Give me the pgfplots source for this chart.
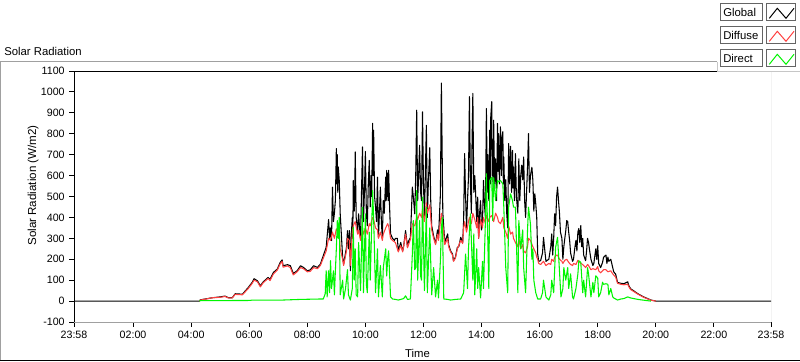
\documentclass[border=0pt]{standalone}
\usepackage{fontspec}
\setmainfont{Liberation Sans}
\usepackage{pgfplots}
\pgfplotsset{compat=1.18}
\definecolor{diffred}{RGB}{255,64,64}
\definecolor{dirgreen}{RGB}{0,245,0}
\definecolor{framegray}{RGB}{160,160,160}
\definecolor{boxgray}{RGB}{100,100,100}
\begin{document}
\begin{tikzpicture}[x=0.75pt,y=0.75pt,font=\fontsize{8.5}{10}\selectfont]
\path[use as bounding box] (0,0) rectangle (800,361);
% outer frame
\draw[framegray, line width=0.75pt] (0.5,0) -- (0.5,299) -- (717,299);
\draw[black, line width=0.75pt] (0,0.5) -- (800,0.5);
\node[anchor=west, inner sep=0] at (4,309.5) {Solar Radiation};
\begin{axis}[
  at={(55.5pt,29.25pt)}, anchor=south west, scale only axis,
  width=522.75pt, height=188.25pt,
  xmin=-2, xmax=1438, ymin=-100, ymax=1100,
  ytick={-100,0,...,1100},
  xtick={-2,120,240,360,480,600,720,840,960,1080,1200,1320,1438},
  xticklabels={23:58,02:00,04:00,06:00,08:00,10:00,12:00,14:00,16:00,18:00,20:00,22:00,23:58},
  minor x tick num=8,
  axis line style={draw=none},
  tick align=outside, tick pos=left,
  major tick length=3.5pt, minor tick length=1.8pt,
  every tick/.style={black, line width=0.75pt},
  tick label style={font=\fontsize{8}{9}\selectfont},
  /pgf/number format/assume math mode=true,
  /pgf/number format/1000 sep={},
  xlabel={Time}, ylabel={Solar Radiation (W/m2)},
  xlabel style={at={(axis description cs:0.4928,-0.1235)}, anchor=center, font=\fontsize{8.5}{10}\selectfont},
  ylabel style={at={(axis description cs:-0.0588,0.544)}, anchor=center, font=\fontsize{8.7}{10}\selectfont},
  clip=true,
]
\addplot[black, line width=0.8pt, line join=round, no marks] coordinates {
(-2,0) (257,0) (259,6) (269,10) (284,16) (300,20) (310,24) (317,16) (325,16) (331,35) (346,33) (352,49) (358,65) (366,89) (370,107) (377,97) (383,73) (389,92) (399,113) (403,104) (410,137) (418,153) (424,185) (428,197) (430,169) (439,174) (445,169) (451,132) (459,145) (466,169) (472,161) (480,145) (486,149) (493,169) (501,161) (507,177) (513,217) (519,257) (524,390) (526,300) (528,350) (530,289) (532,545) (534,380) (536,420) (538,481) (539,600) (540,729) (541,560) (542,700) (543,520) (544,641) (546,577) (548,417) (553,209) (555,177) (561,257) (563,337) (565,250) (567,337) (569,145) (571,320) (573,400) (574,300) (575,577) (577,430) (578,520) (579,713) (581,400) (584,337) (586,417) (588,350) (590,300) (592,520) (594,737) (596,380) (598,520) (600,715) (602,420) (604,360) (606,560) (608,673) (610,450) (612,600) (613,500) (615,850) (616,600) (617,817) (619,500) (621,448) (623,380) (625,592) (627,304) (629,420) (631,545) (633,380) (635,300) (637,481) (639,420) (642,593) (643,480) (644,625) (645,500) (646,611) (647,480) (648,625) (650,450) (652,322) (656,300) (660,290) (662,300) (666,300) (668,241) (673,280) (677,240) (679,260) (683,337) (687,260) (689,285) (693,304) (695,420) (697,545) (699,500) (702,417) (704,600) (706,913) (708,480) (710,600) (712,745) (714,520) (716,480) (718,905) (720,560) (722,400) (724,620) (726,840) (728,400) (730,560) (733,733) (735,480) (737,360) (741,310) (745,275) (749,340) (751,300) (755,513) (757,1042) (760,420) (762,350) (764,280) (770,321) (772,270) (776,240) (780,225) (782,193) (786,210) (790,257) (793,260) (797,305) (801,280) (803,385) (805,705) (807,500) (809,350) (811,480) (813,593) (815,977) (817,560) (819,420) (820,700) (822,993) (824,520) (826,600) (828,500) (830,380) (832,497) (834,300) (836,420) (838,480) (840,340) (842,380) (844,577) (846,460) (848,400) (850,921) (852,520) (853,700) (855,480) (857,817) (858,560) (859,880) (861,953) (862,600) (863,690) (864,520) (865,865) (867,560) (869,680) (871,480) (873,849) (874,620) (875,800) (877,560) (879,833) (881,600) (882,780) (884,810) (885,560) (886,689) (888,480) (890,580) (892,420) (894,350) (896,753) (898,560) (900,740) (902,520) (904,720) (905,540) (906,641) (908,480) (910,705) (912,500) (915,420) (917,680) (919,480) (921,600) (923,650) (925,580) (927,689) (929,480) (931,400) (933,520) (935,640) (937,801) (939,520) (941,600) (944,640) (946,577) (948,430) (950,513) (952,465) (954,400) (956,225) (958,190) (962,193) (966,230) (968,304) (973,190) (979,200) (983,260) (985,321) (987,220) (989,300) (991,417) (993,360) (995,497) (997,545) (999,480) (1001,420) (1003,330) (1006,300) (1008,200) (1010,260) (1012,300) (1014,337) (1016,385) (1018,380) (1020,330) (1022,290) (1024,230) (1028,190) (1030,200) (1033,260) (1035,290) (1037,240) (1039,330) (1041,347) (1043,280) (1045,361) (1047,260) (1049,300) (1051,220) (1055,193) (1057,240) (1059,300) (1061,280) (1064,230) (1066,200) (1070,170) (1072,180) (1076,250) (1078,200) (1080,265) (1082,180) (1086,160) (1090,185) (1092,209) (1097,220) (1099,180) (1101,210) (1103,190) (1107,200) (1111,160) (1113,140) (1117,129) (1121,89) (1128,85) (1134,83) (1142,92) (1144,75) (1148,59) (1155,48) (1163,35) (1175,20) (1190,5) (1200,0) (1438,0)
};
\addplot[diffred, line width=0.8pt, line join=round, no marks] coordinates {
(257,0) (259,5) (269,9) (284,16) (300,18) (310,22) (317,15) (325,15) (331,32) (346,30) (352,45) (358,60) (366,84) (370,100) (377,92) (383,68) (389,88) (399,108) (403,98) (410,130) (418,148) (424,178) (428,190) (430,162) (439,168) (445,160) (451,125) (459,140) (466,160) (472,155) (480,140) (486,142) (493,160) (501,155) (507,170) (513,205) (519,240) (524,300) (528,290) (532,330) (536,300) (540,345) (544,330) (546,320) (548,250) (553,200) (555,170) (561,240) (563,300) (567,290) (569,170) (573,330) (575,360) (579,380) (584,320) (586,340) (590,290) (594,340) (596,320) (600,350) (604,320) (608,370) (610,360) (615,400) (617,390) (621,350) (625,340) (627,300) (631,330) (635,290) (637,320) (642,350) (646,370) (648,360) (652,300) (656,290) (662,280) (668,235) (673,265) (677,235) (683,320) (687,255) (693,295) (697,370) (702,360) (706,400) (708,390) (712,420) (716,400) (718,440) (722,380) (726,470) (728,420) (733,460) (737,340) (741,300) (745,270) (749,320) (751,290) (755,380) (757,420) (762,320) (764,270) (770,300) (772,260) (776,235) (780,220) (782,190) (786,205) (790,250) (797,290) (801,275) (803,350) (805,380) (809,330) (813,380) (815,400) (819,370) (822,420) (826,390) (830,350) (832,400) (834,300) (838,390) (842,350) (844,400) (848,370) (850,410) (855,380) (857,400) (861,410) (865,380) (869,420) (873,400) (875,380) (879,370) (884,400) (886,350) (890,330) (894,300) (896,360) (900,320) (904,330) (906,300) (910,280) (915,260) (917,300) (921,250) (925,270) (927,240) (931,230) (935,260) (937,300) (941,290) (946,260) (948,250) (952,230) (954,210) (956,200) (958,180) (962,175) (968,190) (973,170) (979,180) (983,175) (985,200) (989,190) (991,210) (995,220) (997,220) (1001,200) (1006,190) (1008,180) (1012,195) (1016,200) (1020,185) (1024,175) (1028,170) (1030,180) (1035,175) (1039,195) (1041,190) (1045,180) (1049,175) (1051,170) (1055,160) (1059,175) (1061,170) (1066,150) (1070,155) (1076,150) (1080,165) (1082,145) (1086,135) (1092,150) (1097,150) (1101,140) (1107,145) (1111,130) (1113,125) (1117,115) (1121,85) (1128,80) (1134,78) (1142,80) (1144,70) (1148,55) (1155,45) (1163,33) (1175,18) (1190,4) (1200,0)
};
\addplot[dirgreen, line width=0.8pt, line join=round, no marks] coordinates {
(257,0) (259,2) (362,3) (366,5) (430,5) (466,8) (507,10) (513,10) (517,35) (519,145) (521,20) (524,145) (526,40) (528,193) (530,60) (532,100) (534,145) (536,30) (538,145) (540,250) (542,385) (544,300) (546,400) (548,30) (553,100) (555,10) (559,60) (563,150) (565,30) (569,5) (573,60) (575,352) (577,100) (579,250) (581,30) (584,20) (586,280) (590,50) (594,448) (596,40) (600,417) (602,80) (604,40) (608,330) (610,100) (615,529) (617,400) (621,40) (625,250) (627,20) (631,170) (635,20) (637,160) (642,250) (644,120) (646,200) (648,240) (652,20) (656,10) (662,8) (668,5) (673,8) (679,12) (683,25) (687,8) (693,10) (697,225) (699,385) (702,150) (704,160) (706,529) (708,100) (712,385) (714,120) (716,100) (718,497) (722,50) (726,449) (728,40) (733,350) (737,30) (741,160) (745,20) (749,100) (751,15) (755,193) (757,350) (759,400) (762,10) (770,8) (776,5) (786,8) (797,10) (803,40) (807,225) (811,60) (813,250) (817,417) (822,100) (824,321) (826,30) (830,250) (832,60) (834,160) (838,15) (842,190) (844,60) (848,385) (850,609) (855,60) (857,577) (861,593) (863,385) (865,590) (869,480) (873,577) (875,570) (879,577) (884,560) (886,449) (890,160) (894,40) (896,449) (900,513) (904,480) (906,449) (910,449) (915,40) (917,385) (921,250) (925,340) (927,160) (931,40) (935,340) (937,449) (941,369) (944,200) (946,250) (948,100) (952,40) (956,10) (962,10) (966,40) (968,100) (973,20) (979,5) (983,30) (985,100) (989,40) (993,257) (997,305) (999,225) (1004,20) (1008,60) (1010,160) (1014,100) (1018,160) (1020,60) (1024,130) (1028,20) (1030,10) (1035,60) (1039,130) (1041,193) (1045,185) (1049,40) (1051,100) (1055,20) (1059,160) (1061,130) (1066,20) (1070,90) (1072,40) (1076,121) (1080,110) (1082,20) (1086,40) (1090,90) (1092,80) (1097,83) (1101,80) (1103,30) (1107,60) (1111,20) (1113,15) (1121,5) (1128,10) (1134,12) (1142,20) (1148,15) (1163,8) (1179,3) (1190,0)
};
\draw[framegray, line width=0.75pt] (rel axis cs:0,0) -- (rel axis cs:1,0) -- (rel axis cs:1,1);
\draw[black, line width=0.75pt] (rel axis cs:0,0) -- (rel axis cs:0,1) -- (rel axis cs:1,1);
\end{axis}
% legend panel
\fill[white] (717,289) rectangle (800,361);
\draw[framegray!60, line width=0.75pt] (717,299) -- (717,289) -- (800,289);
% row 1
\draw[boxgray, fill=white, line width=0.75pt] (720.5,340.5) rectangle (762.5,357);
\node[anchor=west, inner sep=0] at (723,348.7) {Global};
\draw[boxgray, fill=white, line width=0.75pt] (766.5,340.5) rectangle (795.5,357);
\draw[black, line width=0.75pt] (769.3,342.7) -- (777.3,352.7) -- (786,342.7) -- (794,352.7);
% row 2
\draw[boxgray, fill=white, line width=0.75pt] (720.5,317.5) rectangle (762.5,334);
\node[anchor=west, inner sep=0] at (723,325.7) {Diffuse};
\draw[boxgray, fill=white, line width=0.75pt] (766.5,317.5) rectangle (795.5,334);
\draw[diffred, line width=0.75pt] (769.3,319.7) -- (777.3,329.7) -- (786,319.7) -- (794,329.7);
% row 3
\draw[boxgray, fill=white, line width=0.75pt] (720.5,294.5) rectangle (762.5,311);
\node[anchor=west, inner sep=0] at (723,302.7) {Direct};
\draw[boxgray, fill=white, line width=0.75pt] (766.5,294.5) rectangle (795.5,311);
\draw[dirgreen, line width=0.75pt] (769.3,296.7) -- (777.3,306.7) -- (786,296.7) -- (794,306.7);
\end{tikzpicture}
\end{document}
